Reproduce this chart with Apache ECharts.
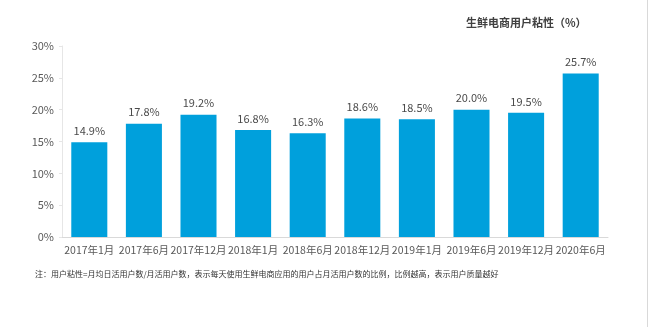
<!DOCTYPE html>
<html><head><meta charset="utf-8">
<script src="https://cdn.jsdelivr.net/npm/echarts@6/dist/echarts.min.js"></script>
<style>html,body{margin:0;padding:0;background:#fff}#c{width:650px;height:327px}</style>
</head><body><div id="c"></div>
<script>
const categories = ['2017年1月','2017年6月','2017年12月','2018年1月','2018年6月','2018年12月','2019年1月','2019年6月','2019年12月','2020年6月'];
const values = [14.9, 17.8, 19.2, 16.8, 16.3, 18.6, 18.5, 20.0, 19.5, 25.7];
const yTicks = [0, 5, 10, 15, 20, 25, 30];
const title = '生鲜电商用户粘性（%）';
const note = '注：用户粘性=月均日活用户数/月活用户数，表示每天使用生鲜电商应用的用户占月活用户数的比例，比例越高，表示用户质量越好';

const chart = echarts.init(document.getElementById('c'));
chart.setOption({
  animation: false,
  textStyle: {fontFamily: '"Noto Sans CJK SC", "Noto Sans", sans-serif'},
  title: [{
    text: title, left: 461, top: 12,
    textStyle: {fontSize: 11, fontWeight: 'bold', color: '#404040'}
  }],
  graphic: [{
    type: 'text', left: 35, top: 270,
    style: {text: note, fontSize: 8, fill: '#333', fontFamily: '"Noto Sans CJK SC", serif'}
  }, {
    type: 'rect', shape: {x: 647, y: 0, width: 1, height: 327}, style: {fill: '#d9d9d9'}
  }],
  grid: {left: 62, right: 42, top: 46, bottom: 90},
  xAxis: {
    type: 'category', data: categories,
    axisLine: {lineStyle: {color: '#d9d9d9'}},
    axisTick: {show: false},
    axisLabel: {color: '#595959', fontSize: 10.5, margin: 8, interval: 0}
  },
  yAxis: {
    type: 'value', min: yTicks[0], max: yTicks[yTicks.length - 1], interval: 5,
    axisLine: {show: true, lineStyle: {color: '#e6e6e6'}},
    axisTick: {show: true, length: 3, lineStyle: {color: '#e6e6e6'}},
    splitLine: {show: false},
    axisLabel: {color: '#595959', fontSize: 11, margin: 8, formatter: v => v + '%'}
  },
  series: [{
    type: 'bar', data: values, barWidth: '66%',
    itemStyle: {color: '#00A0DC'},
    label: {show: true, position: 'top', distance: 6, color: '#4a4a4a', fontSize: 11,
      formatter: p => p.value.toFixed(1) + '%'}
  }]
});
</script></body></html>
